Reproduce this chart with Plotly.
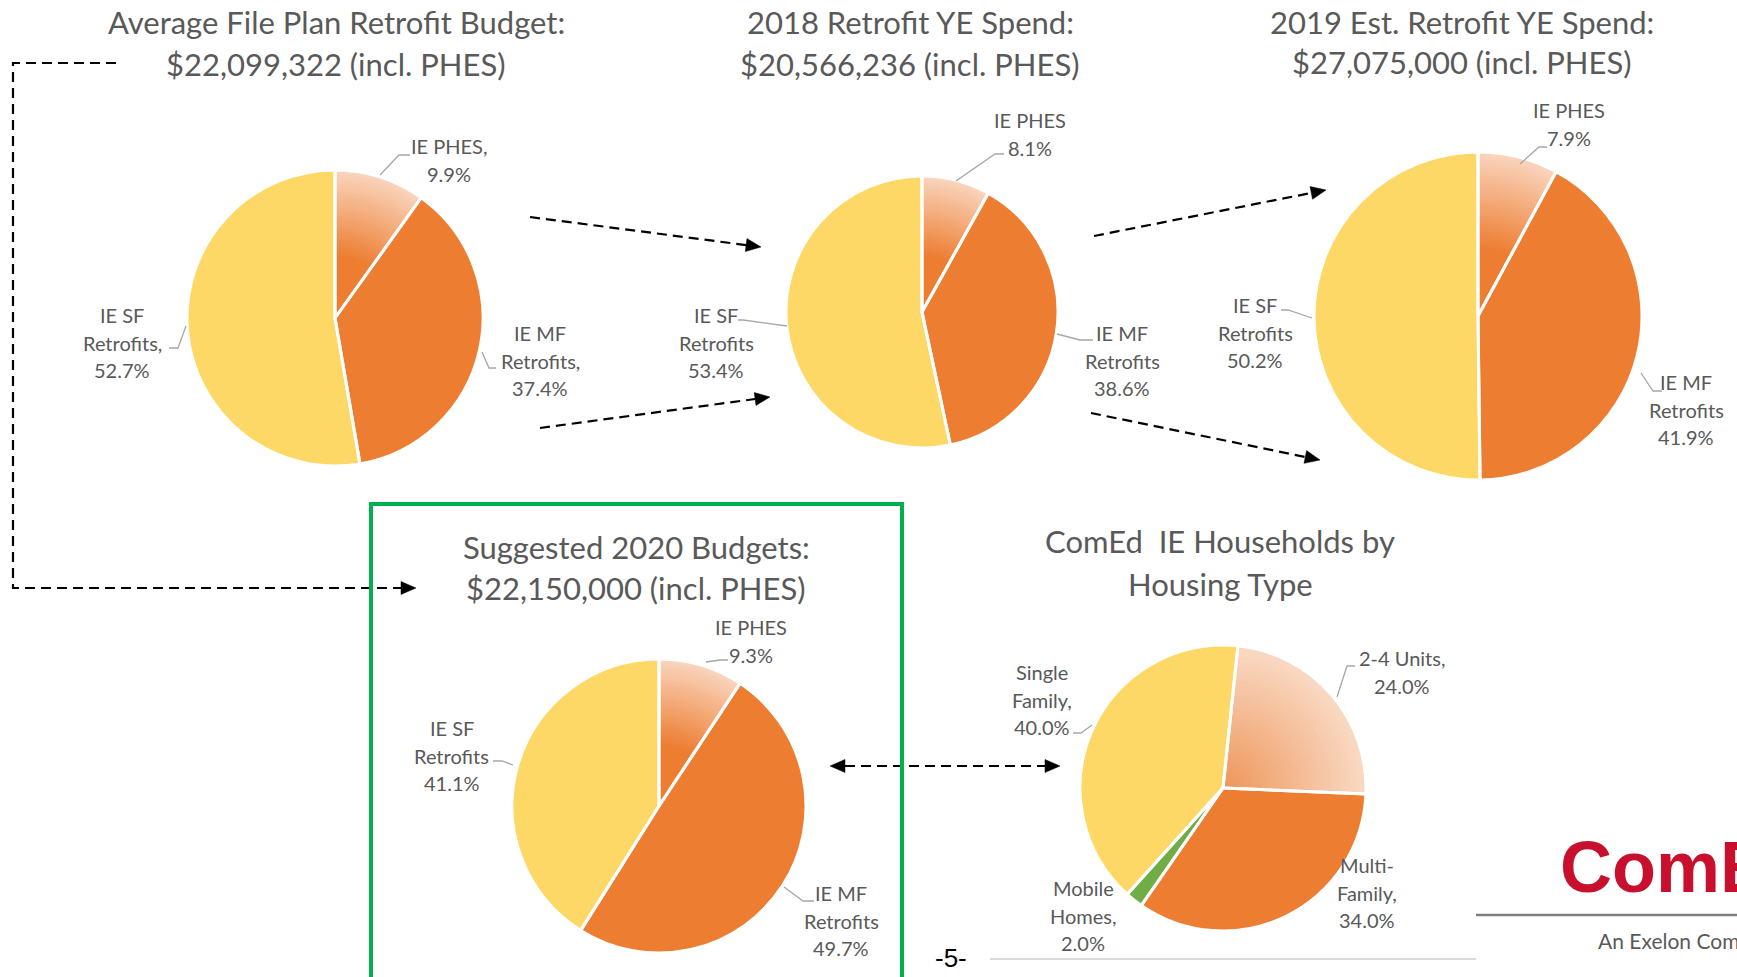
import plotly.graph_objects as go

W, H = 1737, 977

# ---------------- data ----------------
budget_slices = ["IE PHES", "IE MF Retrofits", "IE SF Retrofits"]
avg_file_plan = [9.9, 37.4, 52.7]
ye_spend_2018 = [8.1, 38.6, 53.4]
est_spend_2019 = [7.9, 41.9, 50.2]
suggested_2020 = [9.3, 49.7, 41.1]

housing_types = ["2-4 Units", "Multi-Family", "Mobile Homes", "Single Family"]
housing_share = [24.0, 34.0, 2.0, 40.0]

chart_titles = [
    ["Average File Plan Retrofit Budget:", "$22,099,322 (incl. PHES)"],
    ["2018 Retrofit YE Spend:", "$20,566,236 (incl. PHES)"],
    ["2019 Est. Retrofit YE Spend:", "$27,075,000 (incl. PHES)"],
    ["Suggested 2020 Budgets:", "$22,150,000 (incl. PHES)"],
    ["ComEd  IE Households by", "Housing Type"],
]
label_names_first = [["IE PHES,"], ["IE MF", "Retrofits,"], ["IE SF", "Retrofits,"]]
label_names_std = [["IE PHES"], ["IE MF", "Retrofits"], ["IE SF", "Retrofits"]]
housing_label_names = [["2-4 Units,"], ["Multi-", "Family,"], ["Mobile", "Homes,"], ["Single", "Family,"]]

# ---------------- styling ----------------
YELLOW = "#FED866"
ORANGE = "#ED7D31"
GREEN = "#70AD47"
TXT = "#595959"
FONT = "Lato, Calibri, Open Sans, sans-serif"
TITLE_SIZE = 31
LABEL_SIZE = 20
LINE_GAP = 27.5

def px(x):
    return x / W

def py(y):
    return 1 - y / H

def lerp_color(c0, c1, t):
    a = [int(c0[i:i + 2], 16) for i in (1, 3, 5)]
    b = [int(c1[i:i + 2], 16) for i in (1, 3, 5)]
    return "rgb(%d,%d,%d)" % tuple(round(a[k] + (b[k] - a[k]) * t) for k in range(3))

fig = go.Figure()
annotations = []
shapes = []

def add_pie(labels, values, cx, cy, r, colors, rotation, grad_idx, c_in, c_out, h0):
    dom = dict(x=[px(cx - r), px(cx + r)], y=[py(cy + r), py(cy - r)])
    common = dict(labels=labels, values=values, domain=dom, sort=False,
                  direction="clockwise", rotation=rotation, textinfo="none",
                  showlegend=False)
    fig.add_trace(go.Pie(marker=dict(colors=colors, line=dict(width=0)),
                         hoverinfo="label+percent", **common))
    n_ring = 30
    for k in range(n_ring):
        h = h0 + (0.99 - h0) * k / n_ring
        t = (k + 1) / n_ring
        cols = ["rgba(0,0,0,0)"] * len(values)
        cols[grad_idx] = lerp_color(c_in, c_out, t)
        fig.add_trace(go.Pie(hole=h, marker=dict(colors=cols, line=dict(width=0)),
                             hoverinfo="skip", **common))
    fig.add_trace(go.Pie(marker=dict(colors=["rgba(0,0,0,0)"] * len(values),
                                     line=dict(color="white", width=3)),
                         hoverinfo="skip", **common))

def add_text(x, y, text, size, color=TXT, family=FONT, xanchor="center", bold=False):
    if bold:
        text = "<b>" + text + "</b>"
    annotations.append(dict(x=px(x), y=py(y), xref="paper", yref="paper", text=text,
                            showarrow=False, xanchor=xanchor, yanchor="middle",
                            font=dict(size=size, color=color, family=family)))

def add_labels(names, values, positions):
    for name_lines, v, (x, y) in zip(names, values, positions):
        lines = name_lines + ["%.1f%%" % v]
        for i, ln in enumerate(lines):
            add_text(x, y + i * LINE_GAP, ln, LABEL_SIZE)

def add_path(points, color, width, dash=None, fill=None, closed=False):
    d = "M " + " L ".join("%.5f,%.5f" % (px(x), py(y)) for x, y in points)
    if closed:
        d += " Z"
    line = dict(color=color, width=width)
    if dash:
        line["dash"] = dash
    shapes.append(dict(type="path", path=d, xref="paper", yref="paper", line=line,
                       fillcolor=fill if fill else "rgba(0,0,0,0)", layer="above"))

def arrow_head(x0, y0, x1, y1, L=15, w=6.5):
    dx, dy = x1 - x0, y1 - y0
    n = (dx * dx + dy * dy) ** 0.5
    ux, uy = dx / n, dy / n
    bx, by = x1 - L * ux, y1 - L * uy
    add_path([(x1, y1), (bx - w * uy, by + w * ux), (bx + w * uy, by - w * ux)],
             "black", 0.5, fill="black", closed=True)
    return bx, by

def dashed_arrow(x0, y0, x1, y1, both=False):
    bx, by = arrow_head(x0, y0, x1, y1)
    sx, sy = x0, y0
    if both:
        sx, sy = arrow_head(x1, y1, x0, y0)
    add_path([(sx, sy), (bx, by)], "black", 2.2, dash="10px,6px")

LEADER = "#A6A6A6"

# ---------------- chart 1 ----------------
add_pie(budget_slices, avg_file_plan, 335, 318, 148, [ORANGE, ORANGE, YELLOW], 0, 0,
        ORANGE, "#F9D3BA", 0.42)
add_labels(label_names_first, avg_file_plan, [(449, 146), (540, 333), (122, 315)])
add_path([(380, 175), (399, 155), (410, 155)], LEADER, 1.3)
add_path([(482, 352), (489, 368), (496, 368)], LEADER, 1.3)
add_path([(186, 326), (178, 348), (169, 348)], LEADER, 1.3)

# ---------------- chart 2 ----------------
add_pie(budget_slices, ye_spend_2018, 922, 312, 136, [ORANGE, ORANGE, YELLOW], 0, 0,
        ORANGE, "#F9D3BA", 0.42)
add_labels(label_names_std, ye_spend_2018, [(1030, 120), (1122, 333), (716, 315)])
add_path([(956, 181), (995, 154), (1004, 154)], LEADER, 1.3)
add_path([(1057, 334), (1080, 340), (1093, 340)], LEADER, 1.3)
add_path([(787, 326), (743, 320), (738, 320)], LEADER, 1.3)

# ---------------- chart 3 ----------------
add_pie(budget_slices, est_spend_2019, 1478, 316, 164, [ORANGE, ORANGE, YELLOW], 0, 0,
        ORANGE, "#F9D3BA", 0.42)
add_labels(label_names_std, est_spend_2019, [(1569, 110), (1686, 382), (1255, 305)])
add_path([(1520, 164), (1539, 147), (1547, 147)], LEADER, 1.3)
add_path([(1641, 373), (1653, 391), (1662, 391)], LEADER, 1.3)
add_path([(1312, 318), (1288, 310), (1281, 310)], LEADER, 1.3)

# ---------------- chart 4 ----------------
add_pie(budget_slices, suggested_2020, 659, 806, 147, [ORANGE, ORANGE, YELLOW], 0, 0,
        ORANGE, "#F9D3BA", 0.42)
add_labels(label_names_std, suggested_2020, [(751, 627), (841, 893), (452, 728)])
add_path([(706, 662), (720, 660), (728, 660)], LEADER, 1.3)
add_path([(784, 887), (803, 901), (814, 901)], LEADER, 1.3)
add_path([(513, 765), (502, 761), (493, 761)], LEADER, 1.3)

# ---------------- chart 5 ----------------
add_pie(housing_types, housing_share, 1223, 788, 143, ["#EE9558", ORANGE, GREEN, YELLOW], 6, 0,
        "#EE9558", "#F9D8C2", 0.0)
add_labels(housing_label_names, housing_share,
           [(1402, 658), (1367, 865), (1083, 888), (1042, 672)])
add_path([(1337, 697), (1347, 666), (1355, 666)], LEADER, 1.3)
add_path([(1092, 725), (1081, 733), (1073, 733)], LEADER, 1.3)

# ---------------- titles ----------------
title_pos = [(336, 22, 64), (910, 22, 64), (1462, 22, 62), (636, 547, 588), (1220, 541, 584)]
for lines, (tx, y1, y2) in zip(chart_titles, title_pos):
    add_text(tx, y1, lines[0], TITLE_SIZE)
    add_text(tx, y2, lines[1], TITLE_SIZE)

# ---------------- connectors ----------------
add_path([(116, 63), (13, 63), (13, 588), (401, 588)], "black", 2.2, dash="10px,6px")
arrow_head(13, 588, 416, 588)
dashed_arrow(530, 217, 761, 247)
dashed_arrow(540, 428, 770, 397)
dashed_arrow(1094, 236, 1326, 190)
dashed_arrow(1091, 413, 1320, 460)
dashed_arrow(830, 766, 1060, 766, both=True)

# green highlight box
shapes.append(dict(type="rect", xref="paper", yref="paper", x0=px(371), x1=px(902),
                   y0=py(985), y1=py(504), line=dict(color="#00B050", width=4),
                   fillcolor="rgba(0,0,0,0)", layer="above"))

# footer
shapes.append(dict(type="line", xref="paper", yref="paper", x0=px(990), x1=px(1476),
                   y0=py(959), y1=py(959), line=dict(color="#D9D9D9", width=2)))
shapes.append(dict(type="line", xref="paper", yref="paper", x0=px(1476), x1=px(1737),
                   y0=py(915), y1=py(915), line=dict(color="#808080", width=2.5)))
add_text(951, 958, "-5-", 26, color="black", family="Liberation Sans, Arial, sans-serif")
add_text(1558, 867, "ComEd", 72, color="#C8102E",
         family="Liberation Sans Narrow, Liberation Sans, Arial, sans-serif",
         xanchor="left", bold=True)
add_text(1596, 940, "An Exelon Company", 21, color=TXT,
         family="Lato, sans-serif", xanchor="left")

fig.update_layout(
    width=W, height=H, margin=dict(l=0, r=0, t=0, b=0),
    paper_bgcolor="white", plot_bgcolor="white",
    annotations=annotations, shapes=shapes, showlegend=False,
)
fig.write_html("out.html")
